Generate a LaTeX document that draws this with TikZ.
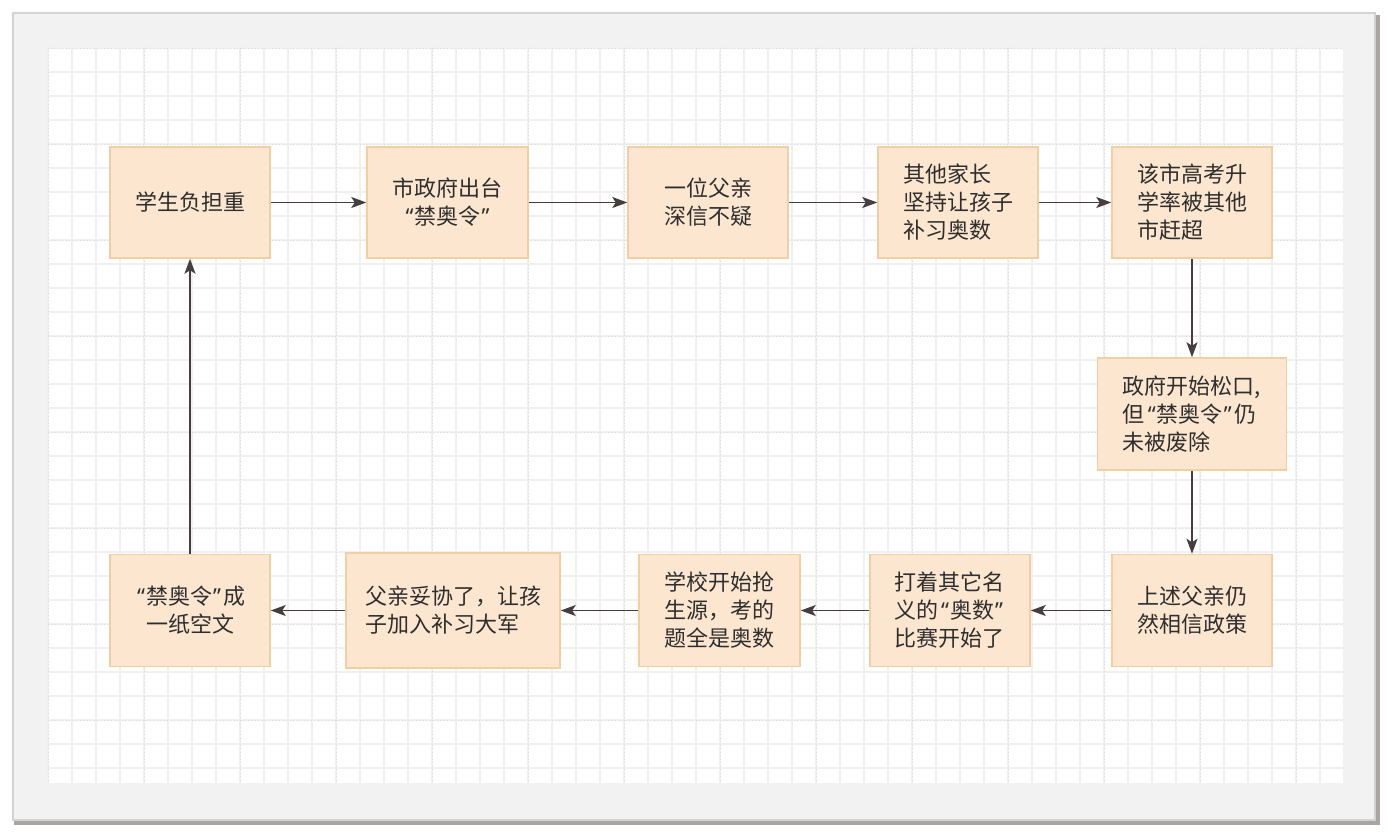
\documentclass[tikz,border=0pt]{standalone}
\usepackage{fontspec}
\setmainfont{Noto Sans CJK SC}
\newfontfamily\quotefont{Noto Sans}
\newcommand{\myLq}{{\kern3pt\quotefont “\kern1pt}}
\newcommand{\myRq}{{\kern1pt\quotefont ”\kern3pt}}
\usetikzlibrary{arrows.meta}
\definecolor{boxfill}{HTML}{FCE6CF}
\definecolor{boxline}{HTML}{F2CFA2}
\definecolor{arrowcol}{HTML}{463E3E}
\definecolor{txtcol}{HTML}{2E2E2E}
\definecolor{framefill}{HTML}{F2F2F2}
\definecolor{frameline}{HTML}{D2D2D2}
\definecolor{frameshadow}{HTML}{A9A5A1}
\definecolor{gridminor}{HTML}{F0F0F0}
\definecolor{gridmajor}{HTML}{DCDCDC}
\tikzset{
  stepbox/.style={draw=boxline, fill=boxfill, line width=1.5pt, inner sep=0pt,
    text=txtcol, font=\fontsize{22}{28}\selectfont},
  flow/.style={draw=arrowcol, line width=1.4pt, -{Stealth[length=15pt,width=11pt,inset=3.5pt]}}
}
\begin{document}
\begin{tikzpicture}[x=1pt,y=-1pt]
\useasboundingbox (0,0) rectangle (1390,837);
% frame
\fill[frameshadow] (14,15) rectangle (1380,825);
\fill[framefill, draw=frameline, line width=2pt] (13,13) rectangle (1375,820);
\fill[white] (48,48) rectangle (1343,783);
% grid
\foreach \x in {48,72,...,1343} \draw[gridminor, line width=1.4pt] (\x,48) -- (\x,783);
\foreach \y in {48,72,...,783} \draw[gridminor, line width=1.4pt] (48,\y) -- (1343,\y);
\foreach \x in {48,144,...,1343} \draw[gridmajor, line width=0.7pt, dash pattern=on 1pt off 2.5pt] (\x,48) -- (\x,783);
\foreach \y in {48,144,...,783} \draw[gridmajor, line width=0.7pt, dash pattern=on 1pt off 2.5pt] (48,\y) -- (1343,\y);
% boxes
\node[stepbox, minimum width=160pt, minimum height=111pt, align=center] (b1) at (190,202.5) {学生负担重};
\node[stepbox, minimum width=161pt, minimum height=111pt, align=center] (b2) at (447.5,202.5) {市政府出台\\\myLq 禁奥令\myRq};
\node[stepbox, minimum width=160pt, minimum height=111pt, align=left] (b3) at (708,202.5) {一位父亲\\深信不疑};
\node[stepbox, minimum width=160pt, minimum height=111pt, align=left] (b4) at (958,202.5) {其他家长\\坚持让孩子\\补习奥数};
\node[stepbox, minimum width=160pt, minimum height=111pt, align=left] (b5) at (1192,202.5) {该市高考升\\学率被其他\\市赶超};
\node[stepbox, minimum width=189pt, minimum height=112pt, align=left] (b6) at (1192,414) {政府开始松口,\\但\myLq 禁奥令\myRq 仍\\未被废除};
\node[stepbox, minimum width=160pt, minimum height=112pt, align=left] (b7) at (1192,610.5) {上述父亲仍\\然相信政策};
\node[stepbox, minimum width=160pt, minimum height=112pt, align=left] (b8) at (950,610.5) {打着其它名\\义的\myLq 奥数\myRq\\比赛开始了};
\node[stepbox, minimum width=161pt, minimum height=112pt, align=left] (b9) at (719.5,610.5) {学校开始抢\\生源，考的\\题全是奥数};
\node[stepbox, minimum width=214pt, minimum height=115pt, align=left] (b10) at (453,610.5) {父亲妥协了，让孩\\子加入补习大军};
\node[stepbox, minimum width=160pt, minimum height=112pt, align=center] (b11) at (190,610.5) {\myLq 禁奥令\myRq 成\\一纸空文};
% connectors
\draw[flow] (b1) -- (b2);
\draw[flow] (b2) -- (b3);
\draw[flow] (b3) -- (b4);
\draw[flow] (b4) -- (b5);
\draw[flow] (b5) -- (b6);
\draw[flow] (b6) -- (b7);
\draw[flow] (b7) -- (b8);
\draw[flow] (b8) -- (b9);
\draw[flow] (b9) -- (b10);
\draw[flow] (b10) -- (b11);
\draw[flow] (b11) -- (b1);
\end{tikzpicture}
\end{document}
